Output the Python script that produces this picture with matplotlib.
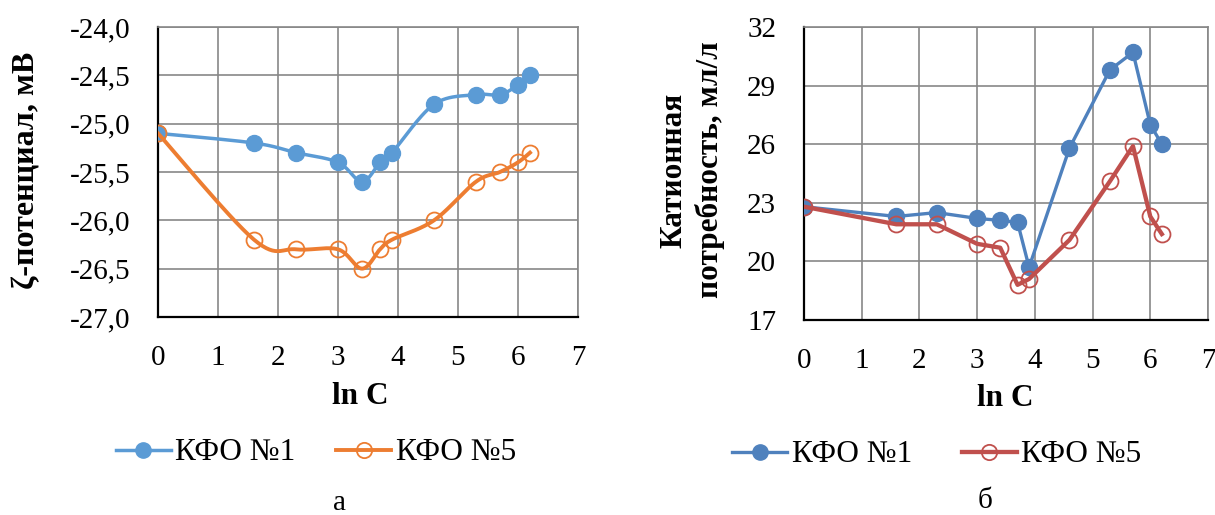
import numpy as np
import matplotlib
matplotlib.use("Agg")
import matplotlib.pyplot as plt
from matplotlib.lines import Line2D

plt.rcParams['font.family'] = ['Liberation Serif', 'DejaVu Serif']

# ---- data ----
lnC = [0, 1.6, 2.3, 3.0, 3.4, 3.7, 3.9, 4.6, 5.3, 5.7, 6.0, 6.2]
zeta_kfo1 = [-25.1, -25.2, -25.3, -25.4, -25.6, -25.4, -25.3, -24.8, -24.7, -24.7, -24.6, -24.5]
zeta_kfo5 = [-25.1, -26.2, -26.3, -26.3, -26.5, -26.3, -26.2, -26.0, -25.6, -25.5, -25.4, -25.3]
cat_kfo1 = [22.8, 22.3, 22.5, 22.2, 22.1, 22.0, 19.7, 25.8, 29.8, 30.7, 27.0, 26.0]
cat_kfo5 = [22.8, 21.9, 21.9, 20.9, 20.7, 18.8, 19.1, 21.1, 24.1, 25.9, 22.3, 21.4]
labels = ['КФО №1', 'КФО №5']
xticks = [0, 1, 2, 3, 4, 5, 6, 7]
yticks_a = [-27.0, -26.5, -26.0, -25.5, -25.0, -24.5, -24.0]
yticks_b = [17, 20, 23, 26, 29, 32]

W, H = 1215, 515
fig = plt.figure(figsize=(W / 100, H / 100), dpi=100)


def smooth(x, y, n=30):
    """Excel-like Bezier smoothing through the given points."""
    x = np.asarray(x, float)
    y = np.asarray(y, float)
    P = np.column_stack([x, y])
    m = len(P)
    out = []
    for i in range(m - 1):
        p0 = P[i - 1] if i > 0 else P[i]
        p1 = P[i]
        p2 = P[i + 1]
        p3 = P[i + 2] if i + 2 < m else P[i + 1]
        c1 = p1 + (p2 - p0) / 6.0
        c2 = p2 - (p3 - p1) / 6.0
        t = np.linspace(0, 1, n)[:, None]
        seg = ((1 - t) ** 3) * p1 + 3 * ((1 - t) ** 2) * t * c1 + 3 * (1 - t) * t ** 2 * c2 + t ** 3 * p2
        out.append(seg if i == 0 else seg[1:])
    out = np.vstack(out)
    return out[:, 0], out[:, 1]


def ax_px(l, r, t, b):
    return fig.add_axes([l / W, 1 - b / H, (r - l) / W, (b - t) / H])


GRID = '#878787'
FS = 21


def style(ax, yticks, fmt):
    ax.set_xlim(0, 7)
    ax.set_ylim(yticks[0], yticks[-1])
    ax.set_xticks(xticks)
    ax.set_yticks(yticks)
    ax.set_xticklabels([str(v) for v in xticks])
    ax.set_yticklabels([fmt(v) for v in yticks])
    ax.grid(True, color=GRID, linewidth=1.2)
    ax.set_axisbelow(True)
    ax.tick_params(length=0, labelsize=FS)
    ax.tick_params(axis='x', pad=20)
    ax.tick_params(axis='y', pad=20)
    for s in ['top', 'right']:
        ax.spines[s].set_color(GRID)
        ax.spines[s].set_linewidth(1.2)
    for s in ['left', 'bottom']:
        ax.spines[s].set_color('black')
        ax.spines[s].set_linewidth(1.6)


# ---- left chart (a) ----
axa = ax_px(158, 578, 27, 317)
c1, c2 = '#5B9BD5', '#ED7D31'
sx, sy = smooth(lnC, zeta_kfo1)
axa.plot(sx, sy, color=c1, lw=2.5, zorder=3)
axa.plot(lnC, zeta_kfo1, 'o', color=c1, ms=11.5, zorder=3)
sx, sy = smooth(lnC, zeta_kfo5)
axa.plot(sx, sy, color=c2, lw=2.8, zorder=4)
axa.plot(lnC, zeta_kfo5, 'o', mfc='none', mec=c2, mew=1.3, ms=11.5, zorder=4)
style(axa, yticks_a, lambda v: f'{v:.1f}'.replace('.', ','))

# ---- right chart (б) ----
axb = ax_px(804, 1208, 27, 320)
d1, d2 = '#4F81BD', '#C0504D'
axb.plot(lnC, cat_kfo1, '-o', color=d1, lw=2.4, ms=11.5, zorder=3)
axb.plot(lnC, cat_kfo5, '-o', color=d2, lw=3.1, mfc='none', mec=d2, mew=1.3, ms=11.5, zorder=4)
style(axb, yticks_b, lambda v: f'{v:d}')


def ftext(x, y, s, **kw):
    fig.text(x / W, 1 - y / H, s, **kw)


# axis labels
ftext(27, 170, 'ζ-потенциал, мВ', rotation=90, ha='center', va='center',
      rotation_mode='anchor', fontsize=23, fontweight='bold')
ftext(692, 170, 'Катионная\nпотребность, мл/л', rotation=90, ha='center', va='center',
      rotation_mode='anchor', fontsize=22.5, fontweight='bold', multialignment='center',
      linespacing=1.3)
ftext(360, 396, 'ln C', ha='center', va='center', fontsize=22.5, fontweight='bold')
ftext(1005, 398, 'ln C', ha='center', va='center', fontsize=22.5, fontweight='bold')

# legends
LFS = 22.5
ha = [Line2D([], [], color=c1, lw=2.5, marker='o', ms=11),
      Line2D([], [], color=c2, lw=2.8, marker='o', mfc='none', mec=c2, mew=1.3, ms=11)]
fig.legend(ha, labels, loc='center', bbox_to_anchor=(316 / W, 1 - 453 / H), ncol=2,
           frameon=False, fontsize=LFS, handlelength=1.75, handletextpad=0.15,
           columnspacing=1.3, borderpad=0, borderaxespad=0)
hb = [Line2D([], [], color=d1, lw=2.4, marker='o', ms=11),
      Line2D([], [], color=d2, lw=3.1, marker='o', mfc='none', mec=d2, mew=1.3, ms=11)]
fig.legend(hb, labels, loc='center', bbox_to_anchor=(937 / W, 1 - 455 / H), ncol=2,
           frameon=False, fontsize=LFS, handlelength=1.75, handletextpad=0.15,
           columnspacing=1.6, borderpad=0, borderaxespad=0)

# panel labels
ftext(340, 503, 'а', ha='center', va='center', fontsize=FS)
ftext(985, 501, 'б', ha='center', va='center', fontsize=FS)

fig.savefig('out.png', dpi=100)
